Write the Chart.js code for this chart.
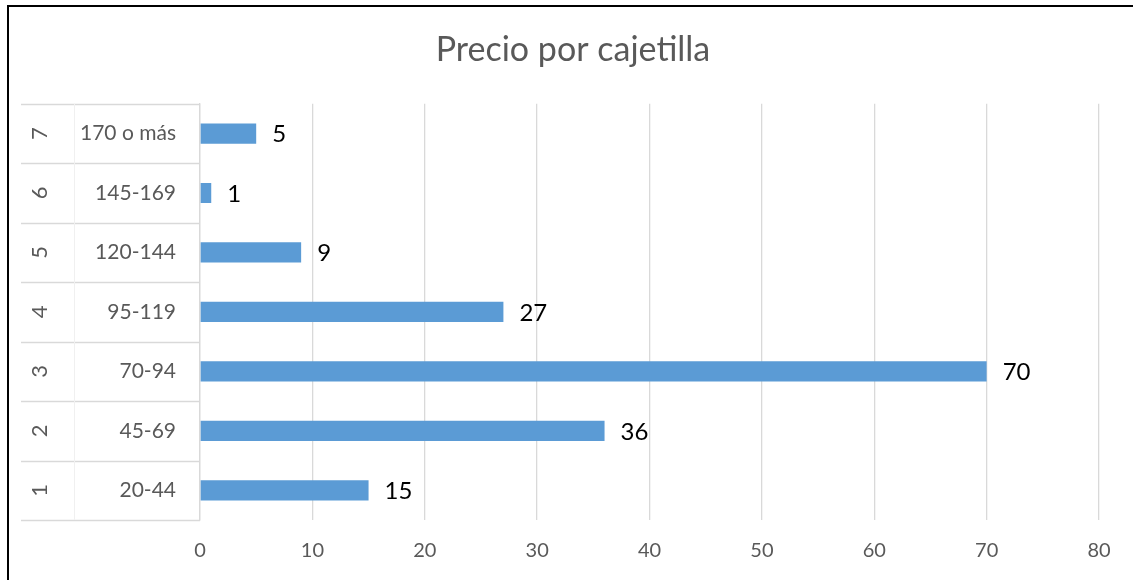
<!DOCTYPE html>
<html>
<head>
<meta charset="utf-8">
<script src="https://cdn.jsdelivr.net/npm/chart.js@4/dist/chart.umd.min.js"></script>
<style>
  html, body { margin: 0; padding: 0; background: #fff; }
  #wrap { width: 1133px; height: 580px; position: relative; }
</style>
</head>
<body>
<div id="wrap"><canvas id="priceChart"></canvas></div>
<script>
// Chart data
const groupNumbers = ['1', '2', '3', '4', '5', '6', '7'];
const priceRanges = ['20-44', '45-69', '70-94', '95-119', '120-144', '145-169', '170 o más'];
const packCounts = [15, 36, 70, 27, 9, 1, 5];
const xTicks = [0, 10, 20, 30, 40, 50, 60, 70, 80];

const FONT = 'Lato, "Open Sans", sans-serif';
const GRID = '#d9d9d9';
const TEXT = '#595959';

// Frame and white background
const framePlugin = {
    id: 'frame',
    beforeDraw(chart) {
        const ctx = chart.ctx;
        ctx.save();
        ctx.fillStyle = '#fff';
        ctx.fillRect(0, 0, chart.width, chart.height);
        ctx.strokeStyle = '#000';
        ctx.lineWidth = 2;
        ctx.beginPath();
        ctx.moveTo(8, chart.height);
        ctx.lineTo(8, 6);
        ctx.lineTo(chart.width, 6);
        ctx.stroke();
        ctx.restore();
    }
};

// Multi-level category table on the left
const tablePlugin = {
    id: 'catTable',
    afterDraw(chart) {
        const ctx = chart.ctx;
        const y = chart.scales.y;
        const area = chart.chartArea;
        const left = 21;
        const n = priceRanges.length;
        const step = (area.bottom - area.top) / n;
        ctx.save();
        ctx.strokeStyle = GRID;
        ctx.lineWidth = 1.3;
        for (let i = 0; i <= n; i++) {
            const yy = Math.round(area.top + i * step) + 0.5;
            ctx.beginPath();
            ctx.moveTo(left, yy);
            ctx.lineTo(area.left, yy);
            ctx.stroke();
        }
        ctx.strokeStyle = '#f0f0f0';
        ctx.lineWidth = 1;
        ctx.beginPath();
        ctx.moveTo(74.5, area.top);
        ctx.lineTo(74.5, area.bottom);
        ctx.stroke();

        ctx.fillStyle = TEXT;
        ctx.font = '22px ' + FONT;
        ctx.textAlign = 'center';
        ctx.textBaseline = 'middle';
        groupNumbers.forEach((g, i) => {
            const yy = y.getPixelForValue(i);
            ctx.save();
            ctx.translate(40, yy);
            ctx.rotate(-Math.PI / 2);
            ctx.fillText(g, 0, 0);
            ctx.restore();
        });
        ctx.restore();
    }
};

// Value labels after each bar
const valueLabelPlugin = {
    id: 'valueLabels',
    afterDatasetsDraw(chart) {
        const ctx = chart.ctx;
        const meta = chart.getDatasetMeta(0);
        ctx.save();
        ctx.fillStyle = '#000';
        ctx.font = '24px ' + FONT;
        ctx.textAlign = 'left';
        ctx.textBaseline = 'middle';
        meta.data.forEach((bar, i) => {
            ctx.fillText(String(packCounts[i]), bar.x + 16, bar.y + 1);
        });
        ctx.restore();
    }
};

const ctx = document.getElementById('priceChart');

new Chart(ctx, {
    type: 'bar',
    data: {
        labels: priceRanges,
        datasets: [{
            data: packCounts,
            backgroundColor: '#5b9bd5',
            borderWidth: 0,
            categoryPercentage: 1,
            barPercentage: 0.34
        }]
    },
    options: {
        indexAxis: 'y',
        responsive: true,
        maintainAspectRatio: false,
        animation: false,
        layout: {
            padding: { left: 47, right: 34, top: 0, bottom: 0 }
        },
        plugins: {
            legend: { display: false },
            tooltip: { enabled: false },
            title: {
                display: true,
                text: 'Precio por cajetilla',
                color: TEXT,
                font: { family: FONT, size: 34, weight: 'normal' },
                padding: { top: 30, bottom: 33 }
            }
        },
        scales: {
            x: {
                min: 0,
                max: 80,
                afterBuildTicks(scale) {
                    scale.ticks = xTicks.map(v => ({ value: v }));
                },
                afterFit(scale) {
                    scale.height = 60;
                },
                grid: {
                    color: GRID,
                    lineWidth: 1.3,
                    drawTicks: false
                },
                border: { display: false },
                ticks: {
                    color: TEXT,
                    padding: 19,
                    font: { family: FONT, size: 20 }
                }
            },
            y: {
                reverse: true,
                afterFit(scale) {
                    scale.width = 153;
                },
                grid: {
                    display: false
                },
                border: { color: GRID, width: 1.3 },
                ticks: {
                    color: TEXT,
                    padding: 16,
                    font: { family: FONT, size: 21 }
                }
            }
        }
    },
    plugins: [framePlugin, tablePlugin, valueLabelPlugin]
});
</script>
</body>
</html>
